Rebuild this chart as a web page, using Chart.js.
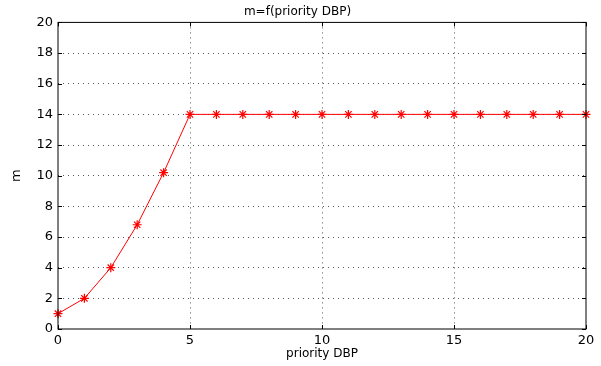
<!DOCTYPE html>
<html lang="en">
<head>
<meta charset="UTF-8">
<title>m=f(priority DBP)</title>
<script src="https://cdn.jsdelivr.net/npm/chart.js"></script>
<style>
  body { margin: 0; background: #fff; }
  #wrap { width: 601px; height: 366px; }
</style>
</head>
<body>
<div id="wrap"><canvas id="chart" width="601" height="366"></canvas></div>
<script>
// data
const priority = [0, 1, 2, 3, 4, 5, 6, 7, 8, 9, 10, 11, 12, 13, 14, 15, 16, 17, 18, 19, 20];
const mValues = [1, 2, 4, 6.8, 10.2, 14, 14, 14, 14, 14, 14, 14, 14, 14, 14, 14, 14, 14, 14, 14, 14];
const xTicks = [0, 5, 10, 15, 20];
const yTicks = [0, 2, 4, 6, 8, 10, 12, 14, 16, 18, 20];

const FONT = "'DejaVu Sans', Arial, sans-serif";

// box around the plot + small inward tick marks (matlab look)
const frame = {
  id: 'frame',
  afterDraw(c) {
    const ctx = c.ctx, a = c.chartArea;
    const xs = c.scales.x, ys = c.scales.y;
    ctx.save();
    ctx.strokeStyle = '#000';
    ctx.lineWidth = 1;
    ctx.setLineDash([]);
    ctx.strokeRect(a.left, a.top, a.right - a.left, a.bottom - a.top);
    ctx.beginPath();
    xTicks.forEach(v => {
      const px = Math.round(xs.getPixelForValue(v)) + 0.5;
      ctx.moveTo(px, a.bottom); ctx.lineTo(px, a.bottom - 4);
      ctx.moveTo(px, a.top); ctx.lineTo(px, a.top + 4);
    });
    yTicks.forEach(v => {
      const py = Math.round(ys.getPixelForValue(v)) + 0.5;
      ctx.moveTo(a.left, py); ctx.lineTo(a.left + 4, py);
      ctx.moveTo(a.right, py); ctx.lineTo(a.right - 4, py);
    });
    ctx.stroke();
    ctx.restore();
  }
};

const gridColor = ctx => (ctx.tick && (ctx.index === 0 || ctx.tick.value === 20)) ? 'rgba(0,0,0,0)' : '#555';

new Chart(document.getElementById('chart').getContext('2d'), {
  type: 'line',
  data: {
    datasets: [{
      data: priority.map((x, i) => ({ x, y: mValues[i] })),
      borderColor: '#ff0000',
      borderWidth: 1,
      pointStyle: 'star',
      pointRadius: 4.5,
      pointBorderColor: '#ff0000',
      pointBorderWidth: 1.2,
      pointBackgroundColor: '#ff0000',
      tension: 0,
      fill: false,
      clip: false
    }]
  },
  options: {
    responsive: false,
    animation: false,
    events: [],
    layout: { padding: { top: 0, right: 15, bottom: 5, left: 9 } },
    plugins: {
      legend: { display: false },
      tooltip: { enabled: false },
      title: {
        display: true,
        text: 'm=f(priority DBP)',
        color: '#000',
        font: { family: FONT, size: 12, weight: 'normal' },
        padding: { top: 5, bottom: 3 }
      }
    },
    scales: {
      x: {
        type: 'linear',
        min: 0, max: 20,
        afterBuildTicks: s => { s.ticks = xTicks.map(v => ({ value: v })); },
        afterFit: s => { s.height = 32; },
        border: { display: false, dash: [1, 4] },
        grid: { color: gridColor, lineWidth: 1, drawTicks: false },
        ticks: { color: '#000', font: { family: FONT, size: 13 }, padding: 4, maxRotation: 0 },
        title: { display: true, text: 'priority DBP', color: '#000', font: { family: FONT, size: 12 }, padding: { top: 0, bottom: 0 } }
      },
      y: {
        min: 0, max: 20,
        afterBuildTicks: s => { s.ticks = yTicks.map(v => ({ value: v })); },
        afterFit: s => { s.width = 49; },
        border: { display: false, dash: [1, 4] },
        grid: { color: gridColor, lineWidth: 1, drawTicks: false },
        ticks: { color: '#000', font: { family: FONT, size: 13 }, padding: 5 },
        title: { display: true, text: 'm', color: '#000', font: { family: FONT, size: 13 }, padding: { top: 0, bottom: 0 } }
      }
    }
  },
  plugins: [frame]
});
</script>
</body>
</html>
